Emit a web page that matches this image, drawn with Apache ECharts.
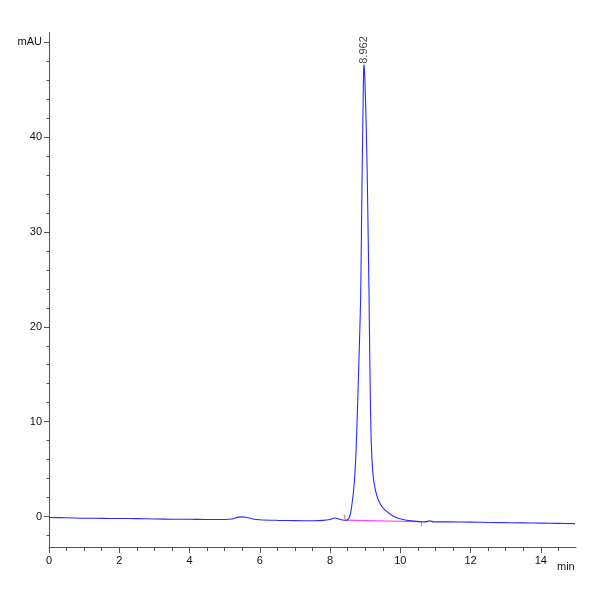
<!DOCTYPE html>
<html>
<head>
<meta charset="utf-8">
<script src="https://cdn.jsdelivr.net/npm/echarts@6/dist/echarts.min.js"></script>
<style>html,body{margin:0;padding:0;background:#fff}#c{width:600px;height:600px}</style>
</head>
<body>
<div id="c"></div>
<script>
// Chromatogram signal (time in min, absorbance in mAU)
const times = [0,0.5,1.0,1.5,2.0,2.5,3.0,3.5,4.0,4.5,5.0,5.2,5.4,5.5,5.6,5.8,6.0,6.5,7.0,7.5,7.8,8.0,8.14,8.25,8.40,
  8.48,8.54,8.59,8.64,8.69,8.74,8.79,8.83,8.87,8.89,8.91,8.935,8.955,8.965,8.98,9.00,9.03,9.06,9.085,9.11,9.14,9.17,9.21,9.25,9.31,9.37,9.45,9.56,9.70,9.85,
  10.07,10.3,10.56,10.7,10.84,10.95,11.2,11.7,12.3,12.83,13.5,14.0,14.5,14.97];
const signal = [-0.10,-0.12,-0.17,-0.18,-0.20,-0.21,-0.25,-0.27,-0.28,-0.30,-0.30,-0.25,-0.05,-0.03,-0.06,-0.25,-0.33,-0.39,-0.42,-0.43,-0.40,-0.30,-0.14,-0.25,-0.38,
  -0.36,-0.15,0.5,1.8,3.6,7.0,12.5,17.5,23.0,29.0,35.5,42.0,47.0,47.6,47.0,45.0,41.0,35.5,29.5,23.0,14.0,8.0,5.0,3.6,2.5,1.8,1.2,0.7,0.3,-0.05,
  -0.30,-0.45,-0.53,-0.55,-0.45,-0.55,-0.55,-0.56,-0.60,-0.63,-0.66,-0.68,-0.71,-0.74];
// Integration baseline
const baseTimes = [8.42, 10.6];
const baseValues = [-0.37, -0.54];
// Integration start/end markers
const markStart = [[8.42,-0.30],[8.42,0.20]];
const markEnd = [[10.6,-0.54],[10.6,-1.00]];
// Peak annotation
const peakTimes = [8.962];
const peakHeights = [47.6];
const peakLabels = ['8.962'];
// Axis ticks
const yMajor = [0,10,20,30,40,50];
const yMinor = [-2,2,4,6,8,12,14,16,18,22,24,26,28,32,34,36,38,42,44,46,48];
const xMajor = [0,2,4,6,8,10,12,14];
const xMinor = [0.5,1,1.5,2.5,3,3.5,4.5,5,5.5,6.5,7,7.5,8.5,9,9.5,10.5,11,11.5,12.5,13,13.5,14.5];

const font = "'Liberation Sans', Arial, sans-serif";
const axisColor = '#555';
const chart = echarts.init(document.getElementById('c'));
chart.setOption({
  animation: false,
  grid: {left: 49, right: 24, top: 32.5, bottom: 53, containLabel: false},
  xAxis: [{
    type: 'value', min: 0, max: 15, position: 'bottom',
    axisLine: {show: true, onZero: false, lineStyle: {color: axisColor, width: 1}},
    axisTick: {show: true, customValues: xMajor, length: 6, lineStyle: {color: axisColor}},
    axisLabel: {customValues: xMajor, color: '#111', fontSize: 11, fontFamily: font, margin: 8},
    splitLine: {show: false},
    name: 'min', nameLocation: 'end', nameGap: -19,
    nameTextStyle: {color: '#111', fontSize: 11, fontFamily: font, align: 'left', verticalAlign: 'top', padding: [14,0,0,0]}
  },{
    type: 'value', min: 0, max: 15, position: 'bottom',
    axisLine: {show: false, onZero: false},
    axisTick: {show: true, customValues: xMinor, length: 4, lineStyle: {color: axisColor}},
    axisLabel: {show: false}, splitLine: {show: false}
  }],
  yAxis: [{
    type: 'value', min: -3.2, max: 51, position: 'left',
    axisLine: {show: true, onZero: false, lineStyle: {color: axisColor, width: 1}},
    axisTick: {show: true, customValues: yMajor, length: 5, lineStyle: {color: axisColor}},
    axisLabel: {customValues: yMajor, color: '#111', fontSize: 11, fontFamily: font, margin: 7,
      formatter: v => v === 50 ? 'mAU' : String(v)},
    splitLine: {show: false}
  },{
    type: 'value', min: -3.2, max: 51, position: 'left',
    axisLine: {show: false, onZero: false},
    axisTick: {show: true, customValues: yMinor, length: 2.5, lineStyle: {color: axisColor}},
    axisLabel: {show: false}, splitLine: {show: false}
  }],
  series: [
    {type: 'line', xAxisIndex: 0, yAxisIndex: 0, data: baseTimes.map((t,i)=>[t, baseValues[i]]),
      symbol: 'none', lineStyle: {color: '#ff40ff', width: 1.2}, z: 2},
    {type: 'line', xAxisIndex: 0, yAxisIndex: 0, data: times.map((t,i)=>[t, signal[i]]),
      symbol: 'none', smooth: 0.3, lineStyle: {color: '#2a2aff', width: 1.1}, z: 3},
    {type: 'line', data: markStart, symbol: 'none', lineStyle: {color: '#888', width: 1}, z: 4},
    {type: 'line', data: markEnd, symbol: 'none', lineStyle: {color: '#888', width: 1}, z: 4},
    {type: 'scatter', data: peakTimes.map((t,i)=>[t, peakHeights[i], peakLabels[i]]),
      symbolSize: 0, z: 5,
      label: {show: true, position: 'top', distance: 1, rotate: 90, align: 'left', verticalAlign: 'middle',
        formatter: p => p.data[2], color: '#111', fontSize: 11, fontFamily: font}}
  ]
});
</script>
</body>
</html>
